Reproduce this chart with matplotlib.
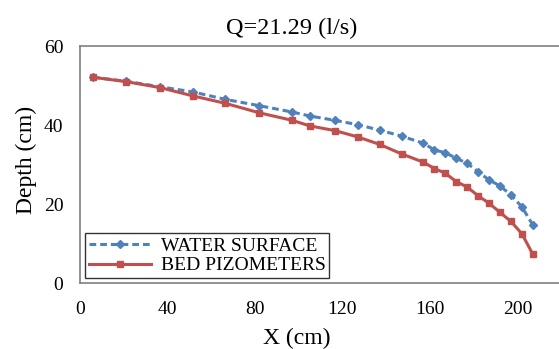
import numpy as np
import matplotlib
matplotlib.use('Agg')
from matplotlib import pyplot as plt

# distances along the channel (cm)
x_cm = [6, 21, 36.5, 51.5, 66.5, 82, 97, 105, 116.5, 127, 137, 147, 157,
        162, 167, 172, 177, 182, 187, 192, 197, 202, 207]
# water surface depth (cm)
water_surface = [52.1, 51.1, 49.7, 48.4, 46.5, 44.9, 43.3, 42.3, 41.2, 40.1,
                 38.7, 37.2, 35.4, 33.7, 33.0, 31.6, 30.3, 28.2, 26.1, 24.6,
                 22.3, 19.3, 14.7]
# bed pizometer readings (cm)
bed_pizometers = [52.1, 51.0, 49.5, 47.4, 45.5, 43.1, 41.2, 39.8, 38.6, 37.0,
                  35.1, 32.7, 30.6, 29.0, 27.8, 25.7, 24.3, 22.1, 20.2, 17.9,
                  15.6, 12.5, 7.3]
x_ticks = [0, 40, 80, 120, 160, 200]
y_ticks = [0, 20, 40, 60]

plt.rcParams['font.family'] = ['Liberation Serif', 'DejaVu Serif']

fig = plt.figure(figsize=(5.59, 3.49), dpi=100)
ax = fig.add_axes([0.143, 0.189, 0.861, 0.679])

ax.plot(x_cm, water_surface, color='#4F81BD', lw=2.2, ls=(0, (2.2, 1.3)),
        marker='D', ms=4, label='WATER SURFACE')
ax.plot(x_cm, bed_pizometers, color='#C0504D', lw=2.2,
        marker='s', ms=5, label='BED PIZOMETERS')

ax.set_xlim(0, 220)
ax.set_ylim(0, 60)
ax.set_xticks(x_ticks)
ax.set_yticks(y_ticks)
ax.tick_params(length=0, labelsize=14)
ax.tick_params(axis='x', pad=13)
ax.tick_params(axis='y', pad=12)

for side in ['left', 'bottom', 'top']:
    ax.spines[side].set_color('#808080')
    ax.spines[side].set_linewidth(1.2)
ax.spines['right'].set_visible(False)

# excel centres these on the chart area, a bit left of the axes centre
ax.set_title('Q=21.29 (l/s)', fontsize=17.5, pad=9, x=0.44)
ax.set_xlabel('X (cm)', fontsize=17, labelpad=7, x=0.45)
ax.set_ylabel('Depth (cm)', fontsize=17, labelpad=5, y=0.52)

leg = ax.legend(loc='lower left', bbox_to_anchor=(0.01, 0.02), borderaxespad=0,
                fancybox=False, edgecolor='black', fontsize=14, handlelength=3.2,
                borderpad=0.2, labelspacing=0.1, handletextpad=0.5)
leg.get_frame().set_linewidth(1.0)

plt.savefig('out.png', dpi=100)
